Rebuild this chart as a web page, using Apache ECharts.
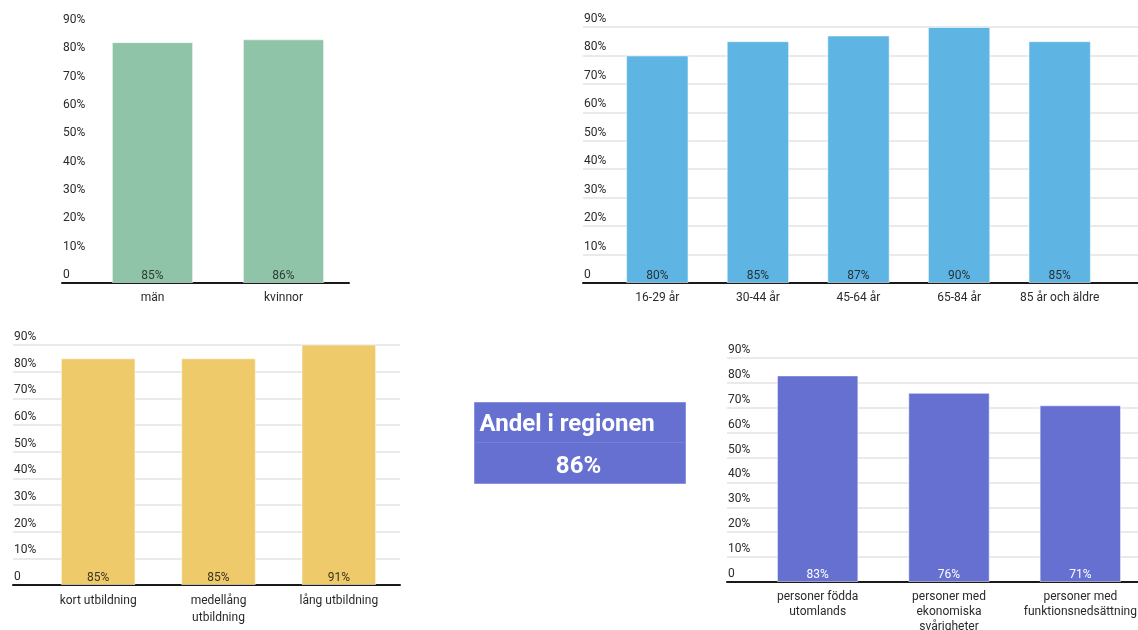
<!DOCTYPE html>
<html>
<head>
<meta charset="utf-8">
<script src="https://cdn.jsdelivr.net/npm/echarts@6/dist/echarts.min.js"></script>
<style>
  html, body { margin: 0; padding: 0; background: #fff; }
  #chart { width: 1138px; height: 630px; }
</style>
</head>
<body>
<div id="chart"></div>
<script>
// Andel per grupp (procent)
const konKategorier = ['män', 'kvinnor'];
const konVarden = [85, 86];

const alderKategorier = ['16-29 år', '30-44 år', '45-64 år', '65-84 år', '85 år och äldre'];
const alderVarden = [80, 85, 87, 90, 85];

const utbKategorier = ['kort utbildning', 'medellång\nutbildning', 'lång utbildning'];
const utbVarden = [85, 85, 91];

const gruppKategorier = ['personer födda\nutomlands', 'personer med\nekonomiska\nsvårigheter', 'personer med\nfunktionsnedsättning'];
const gruppVarden = [83, 76, 71];

const regionRubrik = 'Andel i regionen';
const regionAndel = 86;

const yTickLabels = ['0', '10%', '20%', '30%', '40%', '50%', '60%', '70%', '80%', '90%'];

const FONT = 'Roboto, "Noto Sans", sans-serif';
const TEXT = '#2a2a2a';

// Each panel: a frame grid (value axis, gridlines, baseline) and a bar grid on top.
const panels = [
  { cats: konKategorier, vals: konVarden, color: '#8FC4A8', labelColor: '#2f3b35',
    frame: { left: 62, top: 28, width: 287, height: 255 }, bars: { left: 87, width: 262 },
    grid: false, lineHeight: 15 },
  { cats: alderKategorier, vals: alderVarden, color: '#5EB5E4', labelColor: '#26323a',
    frame: { left: 583, top: 27, width: 620, height: 256 }, bars: { left: 607, width: 503 },
    grid: true, lineHeight: 15 },
  { cats: utbKategorier, vals: utbVarden, color: '#EFCA6A', labelColor: '#3a3420',
    frame: { left: 13, top: 345, width: 387, height: 240 }, bars: { left: 38, width: 361 },
    grid: true, lineHeight: 17 },
  { cats: gruppKategorier, vals: gruppVarden, color: '#6670D1', labelColor: '#ffffff',
    frame: { left: 727, top: 358, width: 460, height: 224 }, bars: { left: 752, width: 394 },
    grid: true, lineHeight: 15 }
];

const grid = [], xAxis = [], yAxis = [], series = [];

panels.forEach(function (p) {
  const fi = grid.length;
  grid.push({ left: p.frame.left, top: p.frame.top, width: p.frame.width, height: p.frame.height, outerBoundsMode: 'none' });
  grid.push({ left: p.bars.left, top: p.frame.top, width: p.bars.width, height: p.frame.height, outerBoundsMode: 'none' });
  const bi = fi + 1;

  xAxis.push({
    gridIndex: fi, type: 'value', min: 0, max: 1,
    axisLine: { show: true, onZero: false, lineStyle: { color: '#1a1a1a', width: 2 } },
    axisTick: { show: false }, axisLabel: { show: false }, splitLine: { show: false }
  });
  yAxis.push({
    gridIndex: fi, type: 'value', min: 0, max: 90, interval: 10,
    axisLine: { show: false }, axisTick: { show: false },
    splitLine: { show: p.grid, lineStyle: { color: '#e3e3e3', width: 1.5 } },
    axisLabel: {
      inside: true, margin: 1, verticalAlign: 'bottom', padding: [0, 0, 2, 0],
      color: TEXT, fontFamily: FONT, fontSize: 12,
      formatter: function (v) { return yTickLabels[Math.round(v / 10)]; },
      showMinLabel: true, showMaxLabel: true
    }
  });

  xAxis.push({
    gridIndex: bi, type: 'category', data: p.cats,
    axisLine: { show: false }, axisTick: { show: false },
    axisLabel: { color: TEXT, fontFamily: FONT, fontSize: 12, margin: 7, lineHeight: p.lineHeight, interval: 0, hideOverlap: false }
  });
  yAxis.push({ gridIndex: bi, type: 'value', min: 0, max: 90, show: false });

  series.push({
    type: 'bar', xAxisIndex: xAxis.length - 1, yAxisIndex: yAxis.length - 1,
    data: p.vals, barCategoryGap: '38%',
    itemStyle: { color: p.color, borderColor: 'rgba(255,255,255,0.5)', borderWidth: 1 },
    label: {
      show: true, position: 'insideBottom', distance: 1,
      color: p.labelColor, fontFamily: FONT, fontSize: 12,
      formatter: function (d) { return d.value + '%'; }
    },
    silent: true
  });
});

const chart = echarts.init(document.getElementById('chart'), null, { renderer: 'canvas' });
chart.setOption({
  animation: false,
  backgroundColor: '#ffffff',
  grid: grid,
  xAxis: xAxis,
  yAxis: yAxis,
  series: series,
  graphic: [{
    type: 'group', left: 472, top: 402,
    children: [
      { type: 'rect', shape: { x: 0, y: 0, width: 211, height: 81 },
        style: { fill: '#6670D1', stroke: '#8a92dc', lineWidth: 1 } },
      { type: 'line', shape: { x1: 0, y1: 40, x2: 211, y2: 40 },
        style: { stroke: '#7880d6', lineWidth: 1 } },
      { type: 'text', x: 5, y: 22,
        style: { text: regionRubrik, fill: '#ffffff', font: 'bold 24px ' + FONT, verticalAlign: 'middle', align: 'left' } },
      { type: 'text', x: 104, y: 64,
        style: { text: regionAndel + '%', fill: '#ffffff', font: 'bold 24px ' + FONT, verticalAlign: 'middle', align: 'center' } }
    ]
  }]
});
</script>
</body>
</html>
